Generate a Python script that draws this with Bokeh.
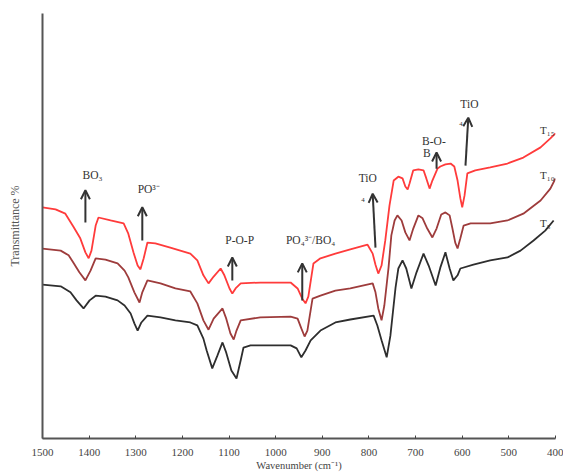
from bokeh.plotting import figure
from bokeh.models import Range1d, FixedTicker, Arrow, OpenHead, ColumnDataSource
from bokeh.core.properties import value
from bokeh.embed import file_html
from bokeh.resources import INLINE

# ---- data (wavenumber cm^-1, transmittance in arbitrary offset units) ----
red_w = [1500, 1472, 1451, 1434, 1419, 1408, 1401, 1395, 1386, 1380, 1354, 1326, 1316, 1305, 1296, 1290,
         1283, 1275, 1258, 1226, 1183, 1168, 1155, 1144, 1133, 1118, 1110, 1099, 1093, 1086, 1075, 1033,
         968, 953, 943, 936, 930, 923, 919, 904, 872, 840, 803, 792, 786, 780, 773, 765, 756, 747, 737,
         728, 722, 717, 713, 705, 694, 683, 677, 670, 664, 653, 647, 636, 625, 617, 610, 604, 600, 595,
         589, 572, 540, 503, 469, 432, 411, 400]
red_t = [54.4, 53.9, 52.9, 49.9, 47.1, 43.8, 42.4, 44.2, 50.1, 52.0, 51.3, 50.6, 48.2, 43.8, 40.7, 39.8,
         42.4, 46.1, 45.9, 44.9, 43.5, 41.9, 38.4, 36.5, 38.1, 40.0, 38.4, 35.3, 34.1, 35.3, 36.5, 36.7,
         36.7, 35.3, 32.9, 31.8, 33.4, 38.4, 41.2, 42.4, 43.5, 44.5, 45.6, 43.5, 40.9, 38.8, 40.7, 46.6,
         54.8, 60.7, 61.6, 61.2, 59.3, 58.6, 60.0, 63.1, 63.3, 63.1, 61.2, 58.8, 60.7, 63.5, 64.0, 64.5,
         64.7, 64.0, 60.7, 56.5, 54.4, 57.2, 62.4, 63.1, 63.8, 64.7, 66.1, 68.5, 70.6, 71.8]

dred_w = [1500, 1461, 1444, 1434, 1421, 1408, 1397, 1386, 1365, 1339, 1324, 1316, 1303, 1292, 1286, 1275,
          1247, 1215, 1183, 1168, 1155, 1144, 1133, 1114, 1106, 1097, 1090, 1084, 1075, 1033, 968, 953,
          945, 938, 932, 921, 904, 872, 840, 792, 786, 780, 773, 767, 758, 752, 745, 739, 730, 722, 713,
          705, 694, 685, 675, 664, 655, 645, 636, 627, 621, 615, 610, 604, 597, 582, 540, 503, 469, 432,
          411, 400]
dred_t = [44.7, 44.2, 43.1, 41.4, 39.1, 37.2, 39.5, 42.4, 42.1, 41.2, 39.5, 37.9, 34.4, 32.0, 34.4, 37.2,
          36.5, 35.3, 34.6, 31.8, 27.8, 25.6, 28.2, 30.6, 28.2, 24.7, 23.3, 25.4, 27.8, 28.5, 28.7, 28.2,
          25.9, 24.0, 25.4, 32.9, 33.6, 34.8, 35.3, 36.5, 34.4, 30.6, 27.8, 31.3, 40.2, 47.8, 51.3, 52.5,
          51.3, 48.5, 46.6, 49.4, 52.5, 51.8, 49.4, 47.3, 49.4, 52.7, 53.2, 52.5, 49.4, 46.1, 44.7, 47.1,
          50.1, 50.6, 50.6, 51.3, 52.9, 56.0, 58.8, 61.2]

blk_w = [1500, 1461, 1440, 1427, 1412, 1399, 1386, 1365, 1339, 1324, 1311, 1303, 1296, 1288, 1275, 1247,
         1215, 1183, 1168, 1155, 1148, 1136, 1125, 1114, 1106, 1095, 1084, 1075, 1069, 1054, 968, 955,
         945, 936, 925, 904, 872, 840, 790, 782, 773, 762, 754, 743, 737, 728, 720, 709, 698, 683, 672,
         657, 647, 636, 627, 619, 610, 604, 576, 540, 503, 475, 447, 422, 404]
blk_t = [36.2, 35.8, 34.4, 32.5, 30.6, 32.5, 33.6, 33.4, 32.5, 31.3, 29.4, 27.1, 25.4, 27.3, 28.9, 28.5,
         27.8, 27.3, 26.6, 23.5, 20.7, 16.5, 19.5, 22.6, 20.2, 16.0, 14.1, 18.4, 21.4, 21.9, 21.9, 21.2,
         19.1, 20.7, 23.1, 25.4, 27.3, 28.0, 28.9, 26.6, 23.1, 19.1, 24.2, 35.5, 40.0, 41.9, 40.0, 35.3,
         39.1, 43.5, 40.7, 36.0, 40.2, 43.8, 40.0, 37.2, 38.4, 40.0, 40.9, 41.9, 42.6, 44.2, 46.6, 48.9,
         51.3]

x_ticks = [1500, 1400, 1300, 1200, 1100, 1000, 900, 800, 700, 600, 500, 400]

# band annotations
ann_text = ["BO\u2083", "PO\u00b3\u207b", "P-O-P", "PO\u2084\u00b3\u207b/BO\u2084", "TiO", "\u2084",
            "B-O-", "B", "TiO", "\u2084"]
ann_x = [1414, 1296, 1108, 978, 822, 817, 686, 684, 604, 607]
ann_y = [61.9, 58.8, 46.8, 46.8, 61.2, 57.0, 69.9, 67.1, 78.6, 75.0]

arrow_x0 = [1408, 1286, 1093, 943, 786, 655, 593]
arrow_y0 = [50.8, 46.6, 37.2, 32.5, 44.9, 63.5, 64.2]
arrow_x1 = [1408, 1286, 1093, 943, 792, 655, 587]
arrow_y1 = [58.4, 54.4, 42.6, 41.2, 57.6, 67.3, 75.5]

series_labels = ["T\u2081\u2085", "T\u2081\u2080", "T\u2085"]
label_x = [433, 433, 433]
label_y = [72.5, 61.9, 50.6]

SERIF = value("Liberation Serif")

p = figure(width=563, height=473, output_backend="svg", toolbar_location=None,
           x_range=Range1d(1500, 400), y_range=Range1d(0, 100),
           min_border_left=42, min_border_right=8, min_border_top=13, min_border_bottom=35)
p.outline_line_color = None
p.grid.visible = False
p.background_fill_color = "white"

p.line(red_w, red_t, line_color="#ff3b3b", line_width=1.8)
p.line(dred_w, dred_t, line_color="#9e3c3c", line_width=1.8)
p.line(blk_w, blk_t, line_color="#2e2e2e", line_width=1.8)

src = ColumnDataSource(dict(x0=arrow_x0, y0=arrow_y0, x1=arrow_x1, y1=arrow_y1))
p.add_layout(Arrow(x_start="x0", y_start="y0", x_end="x1", y_end="y1", source=src,
                   line_color="#333333", line_width=2,
                   end=OpenHead(size=9, line_width=2, line_color="#333333")))

p.text(x=ann_x, y=ann_y, text=ann_text, text_font=SERIF, text_font_size="11.5px",
       text_baseline="middle", text_align="left", text_color="#333333")
p.text(x=label_x, y=label_y, text=series_labels, text_font=SERIF, text_font_size="11px",
       text_baseline="middle", text_align="left", text_color="#333333")

xa = p.xaxis[0]
xa.ticker = FixedTicker(ticks=x_ticks)
xa.minor_tick_line_color = None
xa.major_tick_in = 3
xa.major_tick_out = 0
xa.major_tick_line_color = "#444444"
xa.axis_line_color = "#555555"
xa.axis_line_width = 2
xa.major_label_text_font = "Liberation Serif"
xa.major_label_text_font_size = "11px"
xa.major_label_text_color = "#444444"
xa.major_label_standoff = 10
xa.axis_label = "Wavenumber (cm\u207b\u00b9)"
xa.axis_label_text_font = "Liberation Serif"
xa.axis_label_text_font_size = "10.5px"
xa.axis_label_text_font_style = "normal"
xa.axis_label_text_color = "#444444"
xa.axis_label_standoff = 1

ya = p.yaxis[0]
ya.ticker = FixedTicker(ticks=[])
ya.minor_tick_line_color = None
ya.major_tick_line_color = None
ya.major_label_text_font_size = "0px"
ya.axis_line_color = "#555555"
ya.axis_line_width = 2
ya.axis_label = "Transmittance %"
ya.axis_label_text_font = "Liberation Sans Narrow"
ya.axis_label_text_font_size = "12px"
ya.axis_label_text_font_style = "normal"
ya.axis_label_text_color = "#555555"
ya.axis_label_standoff = 21

open("out.html", "w").write(file_html(p, INLINE))
